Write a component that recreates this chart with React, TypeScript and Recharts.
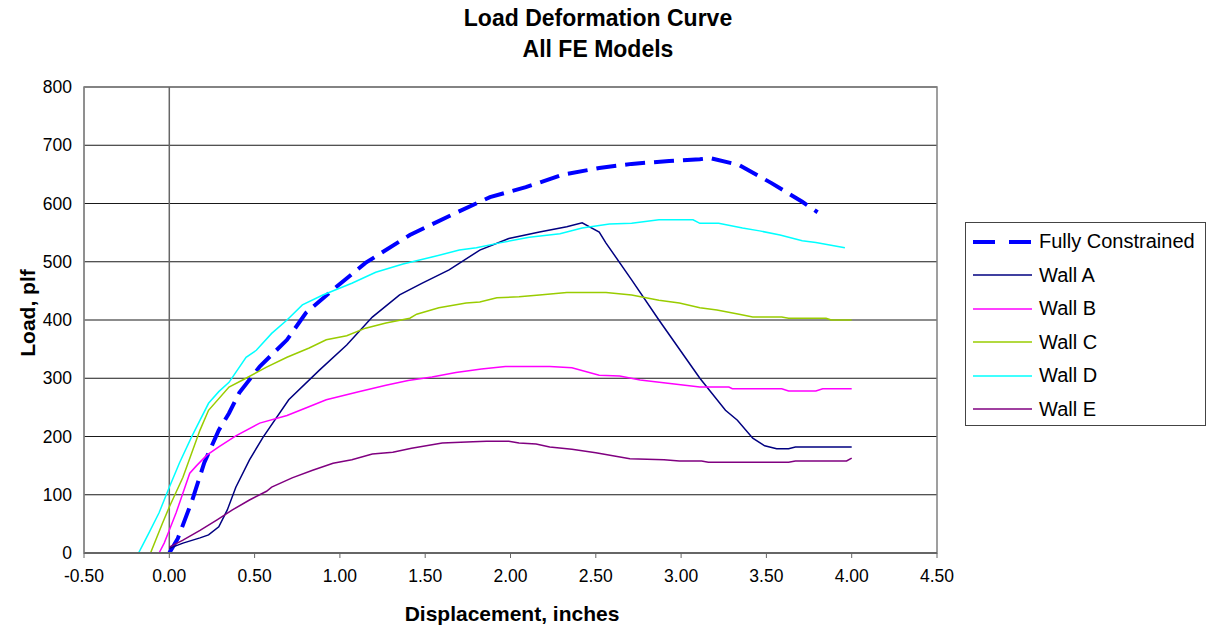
import { LineChart, Line, XAxis, YAxis, CartesianGrid, ReferenceLine, ReferenceArea } from "recharts";

const xTicks = [-0.5, 0, 0.5, 1, 1.5, 2, 2.5, 3, 3.5, 4, 4.5];
const yTicks = [0, 100, 200, 300, 400, 500, 600, 700, 800];

// [displacement, load]
const fullyConstrained: [number, number][] = [
  [0, 0], [0.02, 10], [0.05, 25], [0.135, 91], [0.205, 155], [0.29, 211], [0.35, 240], [0.41, 275],
  [0.53, 320], [0.69, 366], [0.8, 412], [0.98, 457], [1.15, 498], [1.41, 546], [1.68, 584],
  [1.88, 611], [2.09, 628], [2.3, 649], [2.52, 661], [2.71, 668], [2.93, 673], [3.11, 676],
  [3.17, 678], [3.34, 666], [3.53, 635], [3.71, 603], [3.8, 585],
];
const wallA: [number, number][] = [
  [0, 8], [0.08, 17], [0.18, 26], [0.23, 31], [0.29, 45], [0.34, 74], [0.39, 113], [0.47, 160],
  [0.55, 199], [0.7, 263], [0.88, 314], [1.04, 357], [1.19, 405], [1.35, 443], [1.48, 463],
  [1.64, 486], [1.82, 520], [1.99, 540], [2.17, 551], [2.33, 560], [2.42, 567], [2.52, 551],
  [2.56, 532], [2.71, 469], [2.87, 400], [3.11, 300], [3.26, 245], [3.33, 228], [3.42, 197],
  [3.49, 184], [3.56, 179], [3.63, 179], [3.67, 182], [4.0, 182],
];
const wallB: [number, number][] = [
  [-0.06, 0], [-0.03, 17], [0, 39], [0.04, 69], [0.08, 103], [0.12, 137], [0.16, 150], [0.22, 168],
  [0.29, 182], [0.39, 201], [0.53, 223], [0.69, 236], [0.8, 249], [0.92, 263], [1.11, 277],
  [1.27, 288], [1.4, 296], [1.54, 302], [1.68, 310], [1.83, 316], [1.97, 320], [2.23, 320],
  [2.36, 318], [2.52, 305], [2.64, 304], [2.76, 297], [2.91, 292], [3.11, 285], [3.28, 285],
  [3.3, 282], [3.59, 282], [3.63, 278], [3.79, 278], [3.83, 282], [4.0, 282],
];
const wallC: [number, number][] = [
  [-0.11, 0], [-0.08, 22], [-0.04, 51], [0, 79], [0.08, 130], [0.18, 211], [0.23, 245],
  [0.35, 285], [0.43, 297], [0.57, 319], [0.69, 336], [0.82, 352], [0.92, 366], [1.04, 373],
  [1.15, 386], [1.27, 395], [1.41, 403], [1.45, 410], [1.58, 421], [1.74, 429], [1.82, 431],
  [1.92, 438], [2.05, 440], [2.17, 443], [2.33, 447], [2.56, 447], [2.71, 443], [2.87, 434],
  [2.99, 429], [3.11, 421], [3.21, 417], [3.34, 410], [3.42, 405], [3.59, 405], [3.63, 403],
  [3.85, 403], [3.88, 400], [4.0, 400],
];
const wallD: [number, number][] = [
  [0, 0], [-0.18, 0], [-0.12, 34], [-0.06, 69], [0, 113], [0.06, 155], [0.13, 199], [0.23, 257],
  [0.29, 277], [0.35, 293], [0.45, 336], [0.51, 348], [0.6, 377], [0.69, 400], [0.78, 426],
  [0.9, 443], [1.07, 463], [1.21, 482], [1.37, 496], [1.54, 508], [1.7, 520], [1.8, 524],
  [1.93, 532], [2.11, 542], [2.29, 548], [2.42, 558], [2.58, 565], [2.71, 566], [2.87, 572],
  [3.07, 572], [3.11, 566], [3.22, 566], [3.36, 558], [3.46, 553], [3.58, 546], [3.71, 536],
  [3.79, 533], [3.96, 524],
];
const wallE: [number, number][] = [
  [0, 10], [0.08, 22], [0.18, 39], [0.28, 57], [0.37, 74], [0.47, 91], [0.57, 106], [0.6, 113],
  [0.72, 129], [0.84, 142], [0.96, 154], [1.07, 160], [1.19, 170], [1.31, 173], [1.42, 180],
  [1.6, 189], [1.78, 191], [1.86, 192], [1.99, 192], [2.05, 189], [2.15, 187], [2.23, 182],
  [2.36, 178], [2.5, 172], [2.6, 167], [2.7, 162], [2.9, 160], [2.99, 158], [3.12, 158],
  [3.16, 156], [3.63, 156], [3.67, 158], [3.97, 158], [4.0, 163],
];

const series = [
  { name: "Fully Constrained", points: fullyConstrained, color: "#0000FF", width: 4, dash: "20 9" },
  { name: "Wall A", points: wallA, color: "#000080", width: 1.5 },
  { name: "Wall B", points: wallB, color: "#FF00FF", width: 1.5 },
  { name: "Wall C", points: wallC, color: "#99CC00", width: 1.5 },
  { name: "Wall D", points: wallD, color: "#00FFFF", width: 1.5 },
  { name: "Wall E", points: wallE, color: "#800080", width: 1.5 },
];

const font = "'Liberation Sans', Arial, sans-serif";

const LegendBox = () => (
  <div
    style={{
      position: "absolute",
      left: 965,
      top: 222,
      border: "1px solid #444",
      background: "#fff",
      padding: "2px 0 0 7px",
      fontFamily: font,
      fontSize: 20,
      color: "#000",
      boxSizing: "border-box",
      width: 241,
      height: 204,
    }}
  >
    {series.map((s) => (
      <div key={s.name} style={{ display: "flex", alignItems: "center", height: 33.5 }}>
        <svg width={60} height={10} style={{ marginRight: 6 }}>
          <line
            x1={0}
            y1={5}
            x2={59}
            y2={5}
            stroke={s.color}
            strokeWidth={s.dash ? 4 : 1.5}
            strokeDasharray={s.dash ? "22 14" : undefined}
          />
        </svg>
        <span>{s.name}</span>
      </div>
    ))}
  </div>
);

export default function App() {
  return (
    <div style={{ position: "absolute", left: 0, top: 0, width: 1213, height: 630, background: "#fff", fontFamily: font }}>
      <LineChart width={1213} height={630} margin={{ top: 87, right: 276, bottom: 47, left: 14 }}>
        <CartesianGrid horizontal vertical={false} stroke="#000" strokeOpacity={0.9} />
        <ReferenceArea x1={-0.5} x2={4.5} y1={0} y2={800} fill="none" stroke="#808080" strokeWidth={1.5} />
        <XAxis
          type="number"
          dataKey="x"
          domain={[-0.5, 4.5]}
          ticks={xTicks}
          tickFormatter={(v: number) => v.toFixed(2)}
          tick={{ fill: "#000", fontSize: 17.5, fontFamily: font }}
          tickLine={{ stroke: "#666" }}
          tickSize={5}
          tickMargin={12}
          axisLine={{ stroke: "#666", strokeWidth: 2 }}
          height={30}
          allowDataOverflow
        />
        <YAxis
          type="number"
          dataKey="y"
          domain={[0, 800]}
          ticks={yTicks}
          tick={{ fill: "#000", fontSize: 17.5, fontFamily: font }}
          tickLine={false}
          tickMargin={6}
          axisLine={{ stroke: "#808080" }}
          width={70}
          allowDataOverflow
        />
        <ReferenceLine x={0} stroke="#666" strokeWidth={1.5} />
        {series.map((s) => (
          <Line
            key={s.name}
            name={s.name}
            data={s.points.map(([x, y]) => ({ x, y }))}
            dataKey="y"
            type="linear"
            stroke={s.color}
            strokeWidth={s.width}
            strokeDasharray={s.dash}
            dot={false}
            activeDot={false}
            isAnimationActive={false}
          />
        ))}
      </LineChart>
      <div style={{ position: "absolute", left: 0, width: 1196, top: 3, textAlign: "center", fontWeight: "bold", fontSize: 23, lineHeight: "31px" }}>
        <div>Load Deformation Curve</div>
        <div>All FE Models</div>
      </div>
      <div
        style={{
          position: "absolute",
          left: 28,
          top: 313,
          transform: "translate(-50%, -50%) rotate(-90deg)",
          fontWeight: "bold",
          fontSize: 21,
          whiteSpace: "nowrap",
        }}
      >
        Load, plf
      </div>
      <div style={{ position: "absolute", left: 512, top: 614, transform: "translate(-50%, -50%)", fontWeight: "bold", fontSize: 21, whiteSpace: "nowrap" }}>
        Displacement, inches
      </div>
      <LegendBox />
    </div>
  );
}
